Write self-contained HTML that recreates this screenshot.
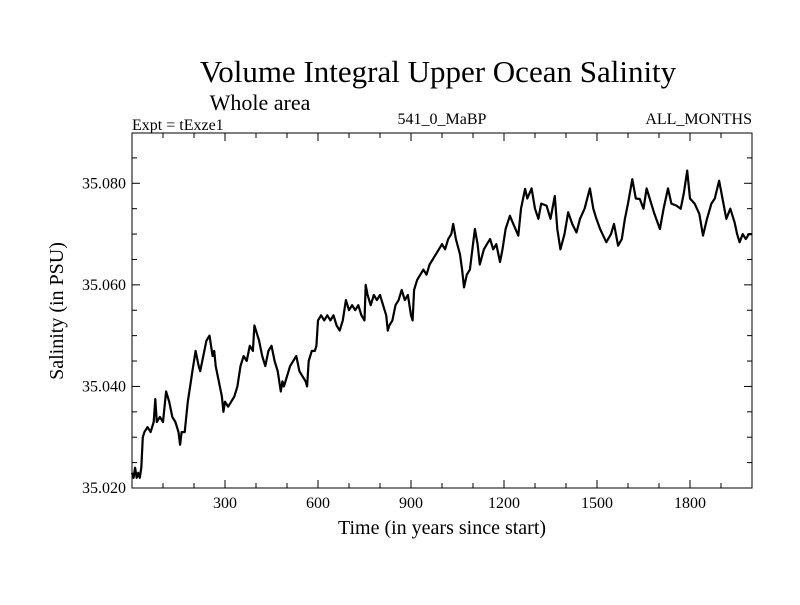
<!DOCTYPE html>
<html><head><meta charset="utf-8"><style>
body{margin:0;background:#fff;width:800px;height:600px;overflow:hidden}
svg text{font-family:"Liberation Serif",serif;fill:#000}
</style></head><body>
<svg id="c" width="800" height="600">
<text x="438" y="82" font-size="31" text-anchor="middle">Volume Integral Upper Ocean Salinity</text>
<text x="260" y="110" font-size="22" text-anchor="middle">Whole area</text>
<text x="132" y="130" font-size="16">Expt = tExze1</text>
<text x="442" y="124" font-size="16" text-anchor="middle">541_0_MaBP</text>
<text x="752" y="124" font-size="16" text-anchor="end">ALL_MONTHS</text>
<text x="442" y="534" font-size="20" text-anchor="middle">Time (in years since start)</text>
<text transform="translate(63,311) rotate(-90)" font-size="20" text-anchor="middle">Salinity (in PSU)</text>
<g id="axes"></g>
<path id="line" fill="none" stroke="#000" stroke-width="2.2" stroke-linejoin="round"/>
</svg>
<script>
const years=[0,5,10,15,20,25,30,35,40,50,60,70,75,80,90,100,110,120,130,140,150,155,160,170,180,190,195,205,215,220,230,240,250,260,265,270,280,290,295,300,310,320,330,340,350,360,370,380,390,395,400,410,420,430,440,450,460,470,480,485,490,500,510,520,530,540,550,560,565,570,580,590,595,600,610,620,630,640,650,660,670,680,690,700,710,720,730,740,750,754,760,770,780,790,800,810,820,825,830,840,850,860,870,880,890,900,905,910,920,930,940,950,960,970,980,990,1000,1010,1020,1030,1036,1045,1058,1065,1071,1080,1090,1100,1106,1115,1122,1135,1145,1155,1165,1175,1187,1195,1205,1219,1230,1246,1255,1268,1275,1289,1300,1311,1320,1337,1350,1364,1372,1382,1395,1407,1420,1434,1445,1460,1477,1488,1498,1510,1530,1545,1555,1568,1580,1590,1600,1614,1625,1638,1650,1660,1670,1685,1703,1715,1729,1740,1756,1770,1780,1791,1800,1815,1830,1842,1855,1869,1880,1894,1905,1917,1930,1944,1952,1960,1970,1980,1990,2000];
const values=[35.023,35.022,35.024,35.022,35.023,35.022,35.024,35.030,35.031,35.032,35.031,35.033,35.0375,35.033,35.034,35.033,35.039,35.037,35.034,35.033,35.031,35.0285,35.031,35.031,35.037,35.041,35.043,35.047,35.044,35.043,35.046,35.049,35.050,35.046,35.047,35.044,35.041,35.038,35.035,35.037,35.036,35.037,35.038,35.040,35.044,35.046,35.045,35.048,35.047,35.052,35.051,35.049,35.046,35.044,35.047,35.048,35.045,35.043,35.039,35.041,35.040,35.042,35.044,35.045,35.046,35.043,35.042,35.041,35.040,35.045,35.047,35.047,35.048,35.053,35.054,35.053,35.054,35.053,35.054,35.052,35.051,35.053,35.057,35.055,35.056,35.055,35.056,35.054,35.053,35.060,35.058,35.056,35.058,35.057,35.058,35.056,35.054,35.051,35.052,35.053,35.056,35.057,35.059,35.057,35.058,35.054,35.053,35.059,35.061,35.062,35.063,35.062,35.064,35.065,35.066,35.067,35.068,35.067,35.069,35.070,35.072,35.069,35.066,35.063,35.0595,35.062,35.063,35.068,35.071,35.068,35.064,35.067,35.068,35.069,35.067,35.068,35.0645,35.067,35.071,35.0736,35.072,35.0697,35.075,35.0789,35.077,35.079,35.075,35.073,35.076,35.0756,35.073,35.0775,35.071,35.067,35.070,35.0743,35.072,35.0703,35.073,35.075,35.079,35.075,35.073,35.071,35.0684,35.070,35.072,35.0677,35.069,35.073,35.076,35.0808,35.077,35.0769,35.075,35.079,35.077,35.074,35.071,35.075,35.079,35.076,35.0756,35.075,35.078,35.0825,35.077,35.076,35.074,35.0697,35.073,35.076,35.077,35.0805,35.077,35.073,35.075,35.0723,35.070,35.0684,35.070,35.069,35.070,35.070];
const xTicks=[300,600,900,1200,1500,1800];
const yTicks=[35.020,35.040,35.060,35.080];
const L=132,R=752,T=133,B=488,X0=0,X1=2000,Y0=35.020,Y1=35.0899;
const sx=v=>L+(v-X0)/(X1-X0)*(R-L);
const sy=v=>B-(v-Y0)/(Y1-Y0)*(B-T);
const NS='http://www.w3.org/2000/svg';
const ax=document.getElementById('axes');
function mk(t,a,txt){const e=document.createElementNS(NS,t);for(const k in a)e.setAttribute(k,a[k]);if(txt!==undefined)e.textContent=txt;ax.appendChild(e);return e;}
const fr=mk('rect',{x:L,y:T,width:R-L,height:B-T,fill:'none',stroke:'#000','stroke-width':1});


for(let v=100;v<X1;v+=100){const x=sx(v);const big=v%300===0;const len=big?8:5;
 mk('line',{x1:x,y1:B,x2:x,y2:B-len,stroke:'#000'});mk('line',{x1:x,y1:T,x2:x,y2:T+len,stroke:'#000'});}
for(let i=1;i*0.005+Y0<Y1;i++){const v=Y0+i*0.005;const y=sy(v);const big=i%4===0;const len=big?8:5;
 mk('line',{x1:L,y1:y,x2:L+len,y2:y,stroke:'#000'});mk('line',{x1:R,y1:y,x2:R-len,y2:y,stroke:'#000'});}
xTicks.forEach(v=>{const t=mk('text',{x:sx(v),y:508,'font-size':16,'text-anchor':'middle'},String(v));
 
 });
yTicks.forEach(v=>{const t=mk('text',{x:126,y:sy(v)+5,'font-size':16,'text-anchor':'end'},v.toFixed(3));
 
 });
document.getElementById('line').setAttribute('d',years.map((y,i)=>(i?'L':'M')+sx(y).toFixed(1)+','+sy(values[i]).toFixed(1)).join(''));
</script>
</body></html>
